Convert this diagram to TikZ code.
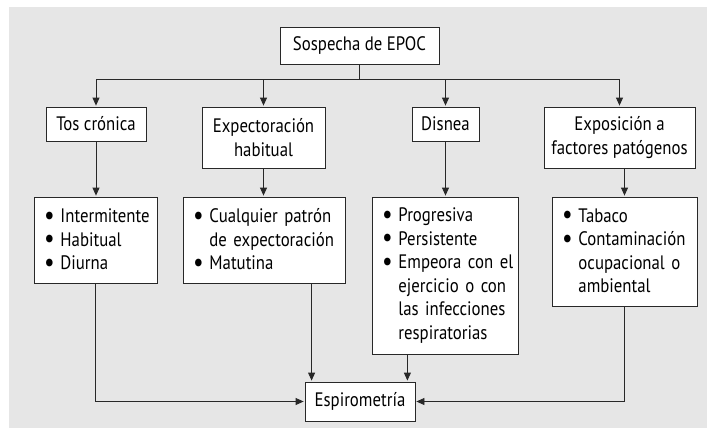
\documentclass[tikz,border=0pt]{standalone}
\usepackage{fontspec}
\setmainfont{PT Sans}[FakeStretch=0.86]
\usetikzlibrary{arrows.meta}
\definecolor{fondo}{RGB}{230,230,230}
\definecolor{trazo}{RGB}{40,40,40}
\tikzset{
  caja/.style={draw=trazo, fill=white, line width=0.8pt, inner sep=0pt,
    font=\fontsize{19.5}{23.6}\selectfont, align=center},
  lista/.style={caja, align=left, inner xsep=6pt},
  linea/.style={draw=trazo, line width=0.8pt},
  flecha/.style={linea, -{Triangle[length=8pt,width=7pt]}, shorten >=1pt}
}
\newcommand{\punto}{\raisebox{-0.08em}{\scalebox{1.4}{\textbullet}}}
\newcommand{\bala}[1]{\hspace*{4pt}\mbox{\punto\hspace{0.3em}#1}}
\newcommand{\sigue}[1]{\hspace*{4pt}\mbox{\phantom{\punto\hspace{0.3em}}#1}}
\begin{document}
\begin{tikzpicture}[x=1pt,y=-1pt]
    \useasboundingbox (0,0) rectangle (715,439);
    % Fondo
    \fill[fondo] (9,7) rectangle (707,428);
    % Caja superior
    \node[caja, minimum width=159pt, minimum height=37pt] (sospecha) at (359.5,45.5) {Sospecha de EPOC};
    % Sintomas
    \node[caja, minimum width=100pt, minimum height=34pt] (tos) at (96,124) {Tos crónica};
    \node[caja, minimum width=123pt, minimum height=61pt] (expect) at (263.5,137.5) {Expectoración\\habitual};
    \node[caja, minimum width=67pt, minimum height=34pt] (disnea) at (445.5,124) {Disnea};
    \node[caja, minimum width=151pt, minimum height=61pt] (expos) at (619.5,137.5) {Exposición a\\factores patógenos};
    % Listas
    \node[lista, text width=111pt, minimum height=86pt] (intermit) at (95.5,240)
      {\bala{Intermitente}\\\bala{Habitual}\\\bala{Diurna}};
    \node[lista, text width=150pt, minimum height=86pt] (cualq) at (264,240)
      {\bala{Cualquier patrón}\\\sigue{de expectoración}\\\bala{Matutina}};
    \node[lista, text width=134pt, minimum height=157pt] (progres) at (445,275.5)
      {\bala{Progresiva}\\\bala{Persistente}\\\bala{Empeora con el}\\\sigue{ejercicio o con}\\\sigue{las infecciones}\\\sigue{respiratorias}};
    \node[lista, text width=133pt, minimum height=109pt] (tabaco) at (624.5,251.5)
      {\bala{Tabaco}\\\bala{Contaminación}\\\sigue{ocupacional o}\\\sigue{ambiental}};
    % Caja final
    \node[caja, minimum width=110pt, minimum height=39pt] (espiro) at (360,401.5) {Espirometría};
    % Conectores
    \coordinate (bus) at (359.5,79);
    \draw[linea] (sospecha.south) -- (bus);
    \draw[flecha] (bus) -| (tos.north);
    \draw[flecha] (bus) -| (expect.north);
    \draw[flecha] (bus) -| (disnea.north);
    \draw[flecha] (bus) -| (expos.north);
    \draw[flecha] (tos.south) -- (tos.south |- intermit.north);
    \draw[flecha] (expect.south) -- (expect.south |- cualq.north);
    \draw[flecha] (disnea.south) -- (disnea.south |- progres.north);
    \draw[flecha] (tabaco.north |- expos.south) -- (tabaco.north);
    \draw[flecha] (intermit.south) |- (espiro.west);
    \draw[flecha] ([xshift=7pt]espiro.north west |- cualq.south) -- ([xshift=7pt]espiro.north west);
    \draw[flecha] ([xshift=-8pt]espiro.north east |- progres.south) -- ([xshift=-8pt]espiro.north east);
    \draw[flecha] (tabaco.south) |- (espiro.east);
\end{tikzpicture}
\end{document}
